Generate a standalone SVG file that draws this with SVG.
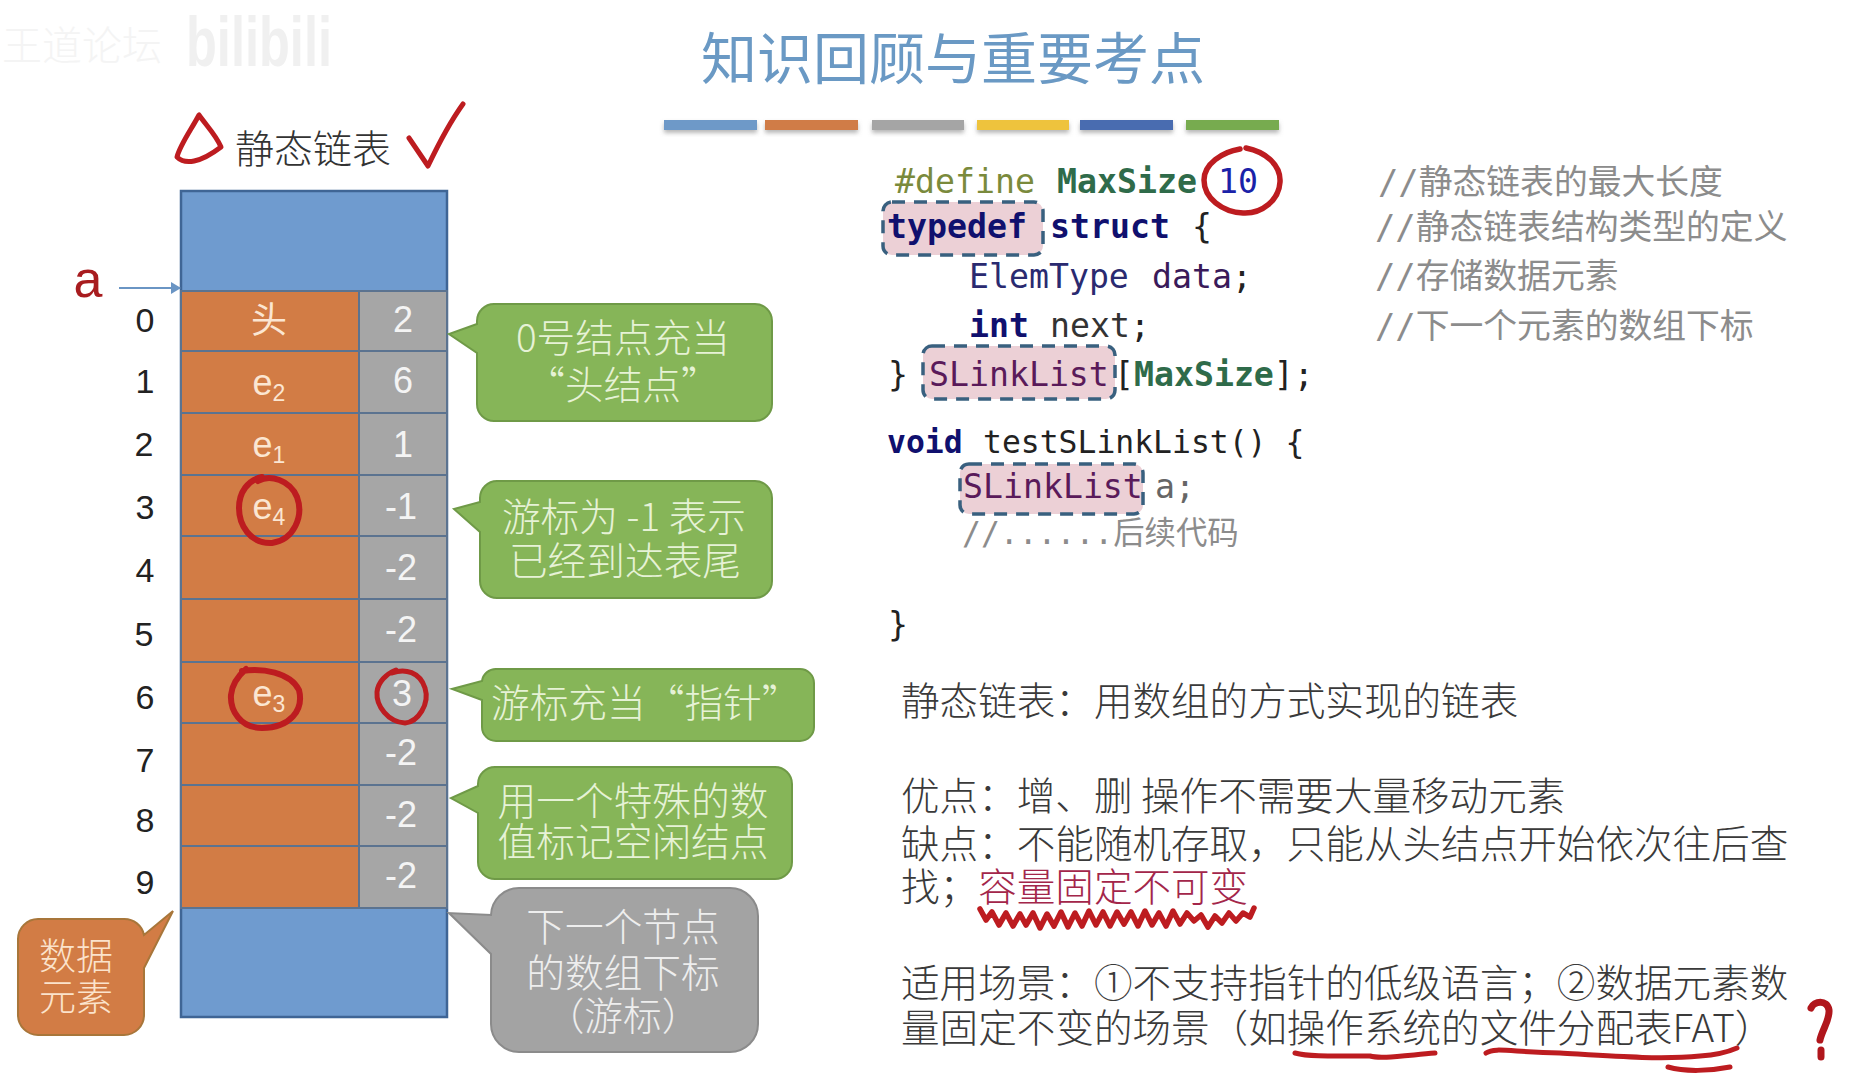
<svg xmlns="http://www.w3.org/2000/svg" width="1867" height="1079" viewBox="0 0 1867 1079">
<style>
text{font-family:"Noto Sans CJK SC","Liberation Sans",sans-serif}
.idx{font-family:"Liberation Sans","Noto Sans CJK SC",sans-serif;font-size:34px;fill:#222;text-anchor:middle}
.cell{stroke:#5b7390;stroke-width:2}
.o{fill:#d27c45}.g{fill:#a6a6a6}
.val{font-family:"Liberation Sans",sans-serif;font-size:36px;fill:#f4f4f4;text-anchor:middle}
.el{font-family:"Liberation Sans","Noto Sans CJK SC",sans-serif;font-size:36px;fill:#fbe6d2;text-anchor:middle}
.sub{font-size:23px}
.ink{fill:none;stroke:#bd1c20;stroke-width:5;stroke-linecap:round;stroke-linejoin:round}
.ct{font-size:38.7px;text-anchor:middle;font-weight:300}
.gt{fill:#e6f2d6}.ot{fill:#fbe3cc}.wt{fill:#eeeeee}
.bar{stroke:none}
.code{font-family:"DejaVu Sans Mono","Noto Sans CJK SC",monospace;font-size:33.2px}
.b{font-weight:700}
.hl{fill:#ecd0d6;stroke:#39607f;stroke-width:3.5;stroke-dasharray:13 9}
.cm{font-family:"DejaVu Sans Mono","Noto Sans CJK SC",monospace;font-size:33.8px;fill:#8c8c8c}
.body{font-size:38.6px;fill:#3a3a3a;font-weight:300}
</style>
<defs>
<filter id="sh" x="-5%" y="-50%" width="110%" height="220%"><feDropShadow dx="0" dy="3" stdDeviation="2" flood-color="#888" flood-opacity=".6"/></filter>
<marker id="ah" markerWidth="10" markerHeight="12" refX="9" refY="6" orient="auto" markerUnits="userSpaceOnUse"><path d="M0 0L10 6L0 12z" fill="#6a95c4"/></marker>
</defs>
<rect width="1867" height="1079" fill="#fff"/>

<g id="watermark">
<text x="2" y="60" font-size="40" font-weight="300" fill="#f4f4f4">王道论坛</text>
<text x="186" y="66" font-size="70" font-weight="700" fill="#f0f0f0" textLength="146" lengthAdjust="spacingAndGlyphs" style="font-family:'Liberation Sans',sans-serif">bilibili</text>
</g>

<g id="title">
<text x="953" y="79" font-size="56" font-weight="400" fill="#6a99c4" text-anchor="middle">知识回顾与重要考点</text>
<g filter="url(#sh)">
<rect class="bar" x="664" y="120" width="93" height="10" fill="#6e99c8"/>
<rect class="bar" x="765" y="120" width="93" height="10" fill="#d07c47"/>
<rect class="bar" x="872" y="120" width="92" height="10" fill="#a5a5a5"/>
<rect class="bar" x="977" y="120" width="92" height="10" fill="#eec33e"/>
<rect class="bar" x="1080" y="120" width="93" height="10" fill="#4a6cb0"/>
<rect class="bar" x="1186" y="120" width="93" height="10" fill="#77ab4f"/>
</g>
</g>

<g id="heading">
<text x="313" y="163" font-size="39" font-weight="300" fill="#333" text-anchor="middle">静态链表</text>
</g>

<g id="array">
<rect x="181" y="191" width="266" height="826" fill="#6f9bcf" stroke="#3f6595" stroke-width="2.5"/>
<g class="cell">
<rect class="o" x="181" y="291" width="178" height="60"/><rect class="g" x="359" y="291" width="88" height="60"/>
<rect class="o" x="181" y="351" width="178" height="62"/><rect class="g" x="359" y="351" width="88" height="62"/>
<rect class="o" x="181" y="413" width="178" height="62"/><rect class="g" x="359" y="413" width="88" height="62"/>
<rect class="o" x="181" y="475" width="178" height="61"/><rect class="g" x="359" y="475" width="88" height="61"/>
<rect class="o" x="181" y="536" width="178" height="63"/><rect class="g" x="359" y="536" width="88" height="63"/>
<rect class="o" x="181" y="599" width="178" height="63"/><rect class="g" x="359" y="599" width="88" height="63"/>
<rect class="o" x="181" y="662" width="178" height="61"/><rect class="g" x="359" y="662" width="88" height="61"/>
<rect class="o" x="181" y="723" width="178" height="62"/><rect class="g" x="359" y="723" width="88" height="62"/>
<rect class="o" x="181" y="785" width="178" height="61"/><rect class="g" x="359" y="785" width="88" height="61"/>
<rect class="o" x="181" y="846" width="178" height="62"/><rect class="g" x="359" y="846" width="88" height="62"/>
</g>
<text class="el" x="269" y="333">头</text>
<text class="el" x="269" y="395">e<tspan class="sub" dy="6">2</tspan></text>
<text class="el" x="269" y="457">e<tspan class="sub" dy="6">1</tspan></text>
<text class="el" x="269" y="519">e<tspan class="sub" dy="6">4</tspan></text>
<text class="el" x="269" y="706">e<tspan class="sub" dy="6">3</tspan></text>
<text class="val" x="403" y="332">2</text>
<text class="val" x="403" y="393">6</text>
<text class="val" x="403" y="457">1</text>
<text class="val" x="401" y="519">-1</text>
<text class="val" x="401" y="580">-2</text>
<text class="val" x="401" y="642">-2</text>
<text class="val" x="402" y="706">3</text>
<text class="val" x="401" y="765">-2</text>
<text class="val" x="401" y="827">-2</text>
<text class="val" x="401" y="888">-2</text>
<text class="idx" x="145" y="332">0</text>
<text class="idx" x="145" y="393">1</text>
<text class="idx" x="144" y="456">2</text>
<text class="idx" x="145" y="519">3</text>
<text class="idx" x="145" y="582">4</text>
<text class="idx" x="144" y="646">5</text>
<text class="idx" x="145" y="709">6</text>
<text class="idx" x="145" y="772">7</text>
<text class="idx" x="145" y="832">8</text>
<text class="idx" x="145" y="894">9</text>
</g>

<g id="connectors">
<line x1="119" y1="288" x2="180" y2="288" stroke="#6a95c4" stroke-width="2" marker-end="url(#ah)"/>
</g>

<g id="pointer-a">
<text x="88" y="297" font-size="52" fill="#a81c1f" text-anchor="middle" style="font-family:'Liberation Sans',sans-serif">a</text>
</g>

<g id="callout-head">
<path d="M494 304H755a17 17 0 0 1 17 17V404a17 17 0 0 1 -17 17H494a17 17 0 0 1 -17 -17V353L449 334L477 324V321a17 17 0 0 1 17 -17z" fill="#86b558" stroke="#6f9a47" stroke-width="2"/>
<text class="ct gt" x="623" y="352">0号结点充当</text>
<text class="ct gt" x="623" y="399">“头结点”</text>
</g>
<g id="callout-tail">
<path d="M497 481H755a17 17 0 0 1 17 17V581a17 17 0 0 1 -17 17H497a17 17 0 0 1 -17 -17V532L454 509L480 502V498a17 17 0 0 1 17 -17z" fill="#86b558" stroke="#6f9a47" stroke-width="2"/>
<text class="ct gt" x="624" y="531">游标为 -1 表示</text>
<text class="ct gt" x="625" y="575">已经到达表尾</text>
</g>
<g id="callout-pointer">
<path d="M496 669H800a14 14 0 0 1 14 14V727a14 14 0 0 1 -14 14H496a14 14 0 0 1 -14 -14V700L452 689L482 681a14 14 0 0 1 14 -12z" fill="#86b558" stroke="#6f9a47" stroke-width="2"/>
<text class="ct gt" x="491" y="717" style="text-anchor:start">游标充当“指针”</text>
</g>
<g id="callout-free">
<path d="M495 767H775a17 17 0 0 1 17 17V862a17 17 0 0 1 -17 17H495a17 17 0 0 1 -17 -17V813L451 798L478 786V784a17 17 0 0 1 17 -17z" fill="#86b558" stroke="#6f9a47" stroke-width="2"/>
<text class="ct gt" x="633" y="815">用一个特殊的数</text>
<text class="ct gt" x="633" y="856">值标记空闲结点</text>
</g>
<g id="callout-data">
<path d="M38 919H124a20 20 0 0 1 20 16L173 911L144 968V1015a20 20 0 0 1 -20 20H38a20 20 0 0 1 -20 -20V939a20 20 0 0 1 20 -20z" fill="#d27c45" stroke="#a8763a" stroke-width="2"/>
<text class="ct ot" x="76" y="970" style="font-size:37px">数据</text>
<text class="ct ot" x="76" y="1011" style="font-size:37px">元素</text>
</g>
<g id="callout-next">
<path d="M519 888H730a28 28 0 0 1 28 28V1024a28 28 0 0 1 -28 28H519a28 28 0 0 1 -28 -28V954L449 913L491 915a28 28 0 0 1 28 -27z" fill="#a3a3a3" stroke="#8b8b8b" stroke-width="2"/>
<text class="ct wt" x="623" y="941">下一个节点</text>
<text class="ct wt" x="623" y="987">的数组下标</text>
<text class="ct wt" x="623" y="1030">（游标）</text>
</g>

<g id="code">
<rect class="hl" x="883" y="202" width="160" height="53" rx="9"/>
<rect class="hl" x="923" y="346" width="192" height="53" rx="9"/>
<rect class="hl" x="960" y="464" width="183" height="50" rx="9"/>
<text class="code" x="895" y="193" xml:space="preserve"><tspan fill="#7a8a3c">#define</tspan><tspan fill="#2f6b4a" class="b" x="1057">MaxSize</tspan><tspan fill="#1a22a8" x="1218">10</tspan></text>
<text class="code" x="887" y="238" xml:space="preserve"><tspan fill="#10106e" class="b">typedef</tspan><tspan fill="#10106e" class="b" x="1050">struct</tspan><tspan fill="#222" x="1192">{</tspan></text>
<text class="code" x="969" y="288" xml:space="preserve"><tspan fill="#2a2a70">ElemType</tspan><tspan fill="#3a1a5a" x="1152">data</tspan><tspan fill="#222">;</tspan></text>
<text class="code" x="969" y="337" xml:space="preserve"><tspan fill="#10106e" class="b">int</tspan><tspan fill="#333" x="1050">next</tspan><tspan fill="#222">;</tspan></text>
<text class="code" x="888" y="386" xml:space="preserve"><tspan fill="#222">}</tspan><tspan fill="#5a1a5a" x="929">SLinkList</tspan><tspan fill="#222" x="1114">[</tspan><tspan fill="#2f6b4a" class="b">MaxSize</tspan><tspan fill="#222">];</tspan></text>
<text class="code" x="887" y="453" xml:space="preserve" style="font-size:31.4px"><tspan fill="#10106e" class="b">void</tspan><tspan fill="#222" x="983">testSLinkList() {</tspan></text>
<text class="code" x="963" y="498" xml:space="preserve"><tspan fill="#5a1a5a">SLinkList</tspan><tspan fill="#666" x="1155">a;</tspan></text>
<text class="code" x="962" y="544" fill="#8c8c8c" style="font-size:31.4px">//......后续代码</text>
<text class="code" x="888" y="636" fill="#222">}</text>
</g>

<g id="comments">
<text class="cm" x="1378" y="194">//静态链表的最大长度</text>
<text class="cm" x="1375" y="239">//静态链表结构类型的定义</text>
<text class="cm" x="1375" y="288">//存储数据元素</text>
<text class="cm" x="1375" y="338">//下一个元素的数组下标</text>
</g>

<g id="notes">
<text class="body" x="901" y="715">静态链表：用数组的方式实现的链表</text>
<text class="body" x="901" y="810">优点：增、删 操作不需要大量移动元素</text>
<text class="body" x="901" y="858">缺点：不能随机存取，只能从头结点开始依次往后查</text>
<text class="body" x="901" y="901">找；<tspan fill="#a3264a">容量固定不可变</tspan></text>
<text class="body" x="901" y="997">适用场景：①不支持指针的低级语言；②数据元素数</text>
<text class="body" x="901" y="1042">量固定不变的场景（如操作系统的文件分配表FAT）</text>
</g>

<g id="annotations">
<path class="ink" d="M199 115C191 130 180 145 177 157C185 165 200 163 221 147C216 135 206 125 199 115z"/>
<path class="ink" d="M409 138L428 166C438 145 450 122 463 104"/>
<path class="ink" d="M258 481C270 474 290 480 297 497C304 516 294 540 272 543C250 544 239 525 239 508C239 492 248 480 262 477" style="stroke-width:6"/>
<path class="ink" d="M242 671C262 668 290 672 299 690C304 710 290 728 262 728C240 728 230 710 231 695C232 684 238 676 246 669" style="stroke-width:6"/>
<path class="ink" d="M392 673C405 668 420 672 425 688C430 704 418 722 405 723C388 722 376 706 377 692C378 682 386 674 396 670"/>
<path class="ink" d="M1246 148C1266 152 1281 165 1280 182C1279 200 1262 214 1243 213C1222 212 1204 198 1204 180C1204 164 1222 152 1240 149" style="stroke-width:5.5"/>
<path class="ink" d="M980 909L986 920L992 912L999 925L1006 913L1013 926L1020 914L1026 925L1033 913L1040 928L1047 914L1054 926L1061 912L1068 927L1075 913L1082 926L1089 911L1096 925L1103 912L1110 926L1117 912L1124 924L1131 912L1138 926L1145 911L1152 925L1159 913L1166 926L1173 911L1180 924L1187 913L1194 921L1201 915L1208 927L1215 916L1222 923L1229 913L1236 921L1243 913L1250 917L1254 908" style="stroke-width:5.5"/>
<path class="ink" d="M1295 1053C1310 1057 1335 1056 1370 1056C1380 1059 1400 1056 1435 1053" style="stroke-width:5"/>
<path class="ink" d="M1486 1053C1495 1047 1510 1052 1560 1053C1610 1056 1660 1060 1700 1056C1715 1055 1728 1052 1737 1048" style="stroke-width:5"/>
<path class="ink" d="M1668 1067C1685 1072 1710 1071 1730 1067" style="stroke-width:5"/>
<path class="ink" d="M1811 1008C1814 1001 1827 999 1829 1010C1830 1020 1822 1030 1820 1040M1821 1050L1821 1057" style="stroke-width:7;stroke:#b0161c"/>
</g>
</svg>
